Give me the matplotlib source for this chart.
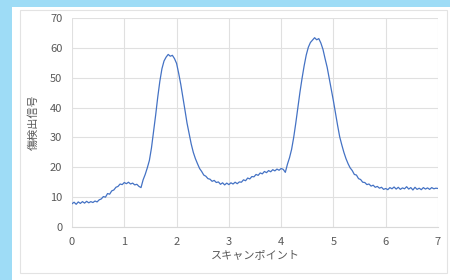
import numpy as np
import matplotlib.pyplot as plt
from matplotlib.patches import Rectangle

# Scan signal (one value every 0.04 scan points, 0..7)
signal = [
    7.8, 8.3, 7.6, 8.4, 7.9, 8.5, 8.0, 8.6, 8.1, 8.5,
    8.2, 8.7, 8.4, 9.1, 9.4, 10.2, 10.0, 11.2, 11.0, 12.1,
    12.4, 13.3, 13.6, 14.4, 14.2, 14.9, 14.5, 15.0, 14.4, 14.7,
    14.1, 14.3, 13.6, 13.2, 15.8, 17.6, 19.8, 22.3, 26.5, 32.0,
    37.5, 43.5, 48.8, 53.0, 55.6, 56.9, 57.8, 57.2, 57.5, 56.4,
    54.8, 51.5, 47.8, 43.6, 39.2, 34.8, 31.3, 27.8, 25.0, 22.9,
    21.2, 19.6, 18.6, 17.4, 17.0, 16.2, 16.0, 15.3, 15.6, 14.9,
    15.1, 14.3, 14.8, 14.1, 14.7, 14.2, 14.8, 14.4, 15.0, 14.5,
    15.1, 15.0, 15.8, 15.5, 16.4, 16.1, 16.9, 16.8, 17.6, 17.3,
    18.1, 17.8, 18.6, 18.2, 18.9, 18.5, 19.2, 18.8, 19.4, 19.0,
    19.6, 19.3, 18.3, 21.0, 23.2, 26.0, 30.0, 34.8, 40.0, 45.2,
    49.8, 54.0, 57.6, 60.2, 61.8, 62.6, 63.4, 62.7, 63.1, 61.6,
    59.5, 56.4, 53.5, 49.8, 46.2, 42.2, 38.0, 34.0, 30.2, 27.5,
    25.0, 22.9, 21.2, 19.8, 18.9, 17.6, 17.4, 16.2, 15.9, 15.0,
    14.9, 14.2, 14.4, 13.7, 14.0, 13.3, 13.6, 13.0, 13.3, 12.6,
    12.9, 12.5, 13.2, 12.8, 13.4, 12.7, 13.3, 12.6, 13.1, 12.8,
    13.5, 12.7, 13.2, 12.4, 13.3, 12.6, 13.0, 12.5, 13.2, 12.7,
    13.1, 12.6, 13.2, 12.8, 13.0, 12.9,
]
scan_x = np.linspace(0, 7, len(signal))

x_ticks = [0, 1, 2, 3, 4, 5, 6, 7]
y_ticks = [0, 10, 20, 30, 40, 50, 60, 70]
x_label = "スキャンポイント"
y_label = "傷検出信号"

plt.rcParams['font.family'] = ['Noto Sans CJK JP', 'DejaVu Sans']

fig = plt.figure(figsize=(4.5, 2.8), dpi=100)
fig.patch.set_facecolor('white')

# light blue frame on the left and top, grey chart border
fig.patches.append(Rectangle((0, 0), 12 / 450, 1, transform=fig.transFigure,
                             facecolor='#9edcf6', edgecolor='none', zorder=0))
fig.patches.append(Rectangle((0, 1 - 7 / 280), 1, 7 / 280, transform=fig.transFigure,
                             facecolor='#9edcf6', edgecolor='none', zorder=0))
fig.patches.append(Rectangle((20 / 450, 7 / 280), 427 / 450, 263 / 280, transform=fig.transFigure,
                             facecolor='none', edgecolor='#e3e3e3', linewidth=0.8, zorder=0))

ax = fig.add_axes([72 / 450, 53 / 280, 366 / 450, 209 / 280])
ax.plot(scan_x, signal, color='#4472c4', linewidth=0.9)

ax.set_xlim(0, 7)
ax.set_ylim(0, 70)
ax.set_xticks(x_ticks)
ax.set_yticks(y_ticks)
ax.grid(True, color='#e0e0e0', linewidth=0.8)
ax.set_axisbelow(True)
for side in ['top', 'right', 'left']:
    ax.spines[side].set_visible(False)
ax.spines['bottom'].set_color('#d9d9d9')
ax.tick_params(length=0, labelsize=8, labelcolor='#595959', pad=7)

ax.set_xlabel(x_label, fontsize=8, color='#595959', labelpad=3)
ax.set_ylabel(y_label, fontsize=8, color='#595959', labelpad=8)

plt.savefig('out.png', dpi=100)
